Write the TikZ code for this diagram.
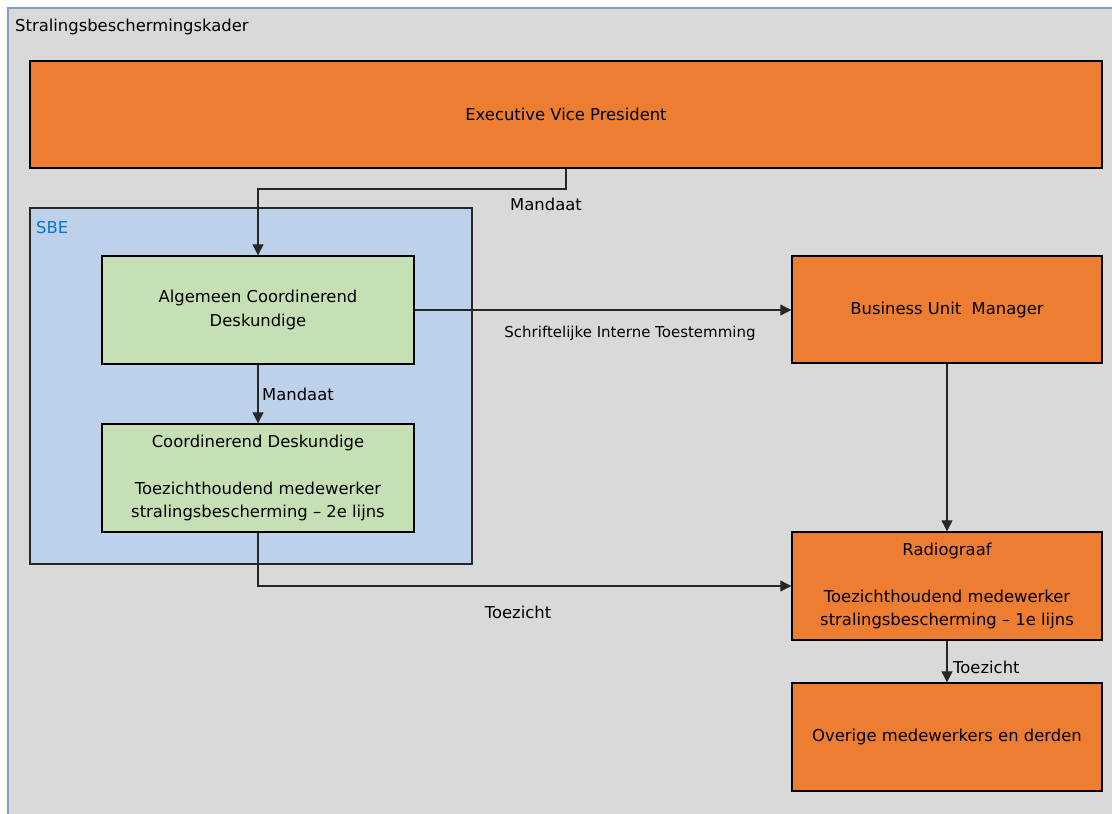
\documentclass[tikz,border=0pt]{standalone}
\usepackage{fontspec}
\setmainfont{DejaVu Sans}
\usetikzlibrary{arrows.meta}
\definecolor{bg}{HTML}{D9D9D9}
\definecolor{org}{HTML}{ED7D31}
\definecolor{grn}{HTML}{C5E0B4}
\definecolor{sbefill}{HTML}{BDD1EA}
\definecolor{sbetext}{HTML}{0A74C9}
\definecolor{framecol}{HTML}{7F9DC8}
\definecolor{ln}{HTML}{262626}
\begin{document}
\begin{tikzpicture}[x=1pt,y=-1pt,
 box/.style={draw=black, line width=1.4pt, inner sep=0pt, align=center,
   font=\fontsize{16.4}{23.5}\selectfont, text=black, anchor=center},
 conn/.style={draw=ln, line width=1.2pt, -{Triangle[length=11pt,width=11pt]}},
 lbl/.style={font=\fontsize{16.4}{20}\selectfont, text=black, inner sep=0pt}]
\useasboundingbox (0,0) rectangle (1112,814);
\fill[white] (0,0) rectangle (1112,814);
\fill[bg] (8,8) rectangle (1112,814);
\draw[framecol, line width=1.5pt] (8,814) -- (8,8) -- (1112,8);
\node[lbl, anchor=base west] (title) at (15,31) {Stralingsbeschermingskader};

% SBE container
\node[draw=ln, line width=1.3pt, fill=sbefill, inner sep=0pt,
  minimum width=442pt, minimum height=356pt] (sbe) at (251,386) {};
\node[lbl, anchor=base west, text=sbetext] (sbelbl) at (36,233) {SBE};

% boxes
\node[box, fill=org, minimum width=1072pt, minimum height=107pt] (evp) at (566,114.5) {Executive Vice President};
\node[box, fill=grn, minimum width=312pt, minimum height=108pt] (acd) at (258,310) {Algemeen Coordinerend\\Deskundige};
\node[box, fill=grn, minimum width=312pt, minimum height=108pt] (cd) at (258,478)
  {Coordinerend Deskundige\\[23.5pt]Toezichthoudend medewerker\\stralingsbescherming -- 2e lijns};
\node[box, fill=org, minimum width=310pt, minimum height=107pt] (bum) at (947,309.5) {Business Unit\ \ Manager};
\node[box, fill=org, minimum width=310pt, minimum height=108pt] (rad) at (947,586)
  {Radiograaf\\[23.5pt]Toezichthoudend medewerker\\stralingsbescherming -- 1e lijns};
\node[box, fill=org, minimum width=310pt, minimum height=108pt] (ove) at (947,737) {Overige medewerkers en derden};

% connectors
\coordinate (m1) at (566,189);
\draw[conn] (evp.south -| m1) -- (m1) -- (m1 -| acd.north) -- (acd.north);
\draw[conn] (acd.east) -- (acd.east -| bum.west);
\draw[conn] (acd.south) -- (cd.north);
\draw[conn] (cd.south) |- (rad.west);
\draw[conn] (bum.south) -- (rad.north);
\draw[conn] (rad.south) -- (ove.north);

% labels
\node[lbl, anchor=base] (l1) at (546,210) {Mandaat};
\node[lbl, anchor=base west] (l2) at (262,400) {Mandaat};
\node[lbl, anchor=base, font=\fontsize{15}{18}\selectfont] (l3) at (630,337) {Schriftelijke Interne Toestemming};
\node[lbl, anchor=base] (l4) at (518,618) {Toezicht};
\node[lbl, anchor=base west] (l5) at (953,673) {Toezicht};
\end{tikzpicture}
\end{document}
